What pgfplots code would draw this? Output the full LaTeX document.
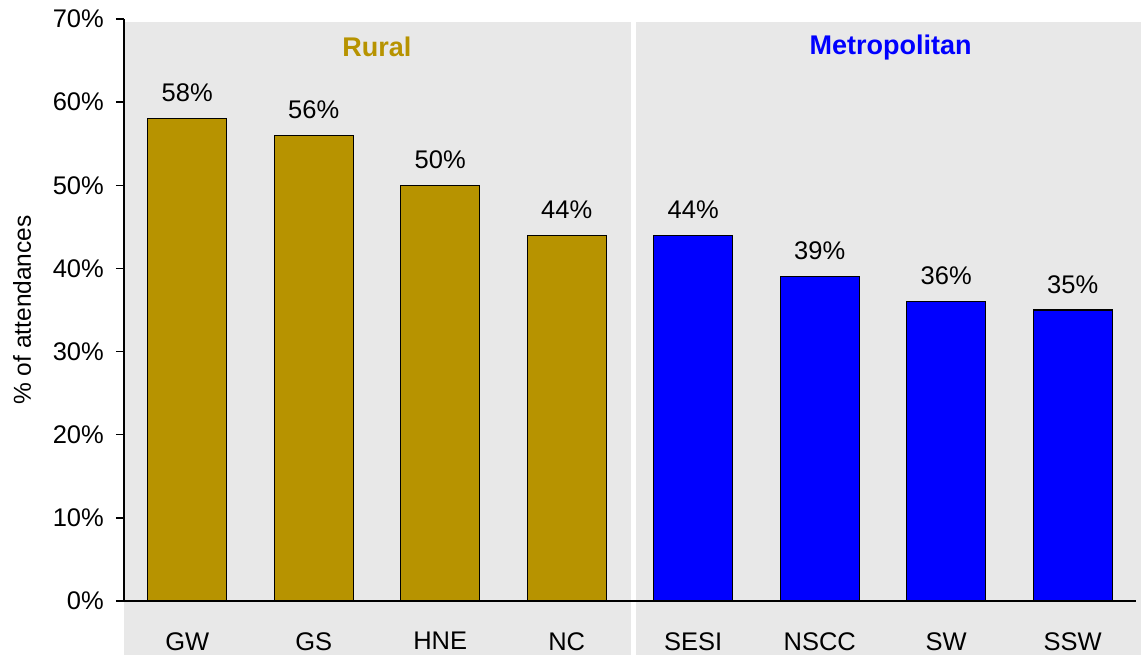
\documentclass[border=0pt]{standalone}
\usepackage{pgfplots}
\pgfplotsset{compat=1.18}
\usepackage{fontspec}
\setmainfont{Liberation Sans}
\definecolor{gold}{RGB}{183,147,0}
\definecolor{bg}{RGB}{232,232,232}
\begin{document}
\fontsize{25.5}{30}\selectfont
\begin{tikzpicture}[font=\fontsize{25.5}{30}\selectfont]
\useasboundingbox (0,0) rectangle (1141pt,655pt);
\fill[bg] (124pt,0pt) rectangle (1141pt,633pt);
\fill[white] (630.5pt,0pt) rectangle (635.5pt,633pt);
\begin{axis}[
  at={(124pt,54pt)}, anchor=south west,
  scale only axis, width=1012pt, height=582pt,
  xmin=-0.5, xmax=7.5, ymin=0, ymax=70,
  axis x line=bottom, axis y line=left,
  axis line style={-, line width=1.3pt, black},
  /pgf/number format/assume math mode=true,
  tick align=outside, major tick length=8pt,
  ytick={0,10,...,70},
  yticklabel={\pgfmathprintnumber{\tick}\%},
  ytick style={line width=1.3pt, black},
  yticklabel style={inner sep=0pt, xshift=-12pt},
  xtick={0,1,2,3,4,5,6,7},
  xticklabels={GW,GS,HNE,NC,SESI,NSCC,SW,SSW},
  xtick style={draw=none},
  xticklabel style={anchor=north, inner sep=0pt, yshift=-23pt},
  ylabel={\fontsize{24.5}{29}\selectfont\% of attendances},
  every axis y label/.style={at={(axis description cs:-0.1008,0.5)}, rotate=90, anchor=center},
  clip=false,
  nodes near coords={\pgfmathprintnumber{\pgfplotspointmeta}\%},
  every node near coord/.append style={anchor=south, inner sep=0pt, yshift=16pt, text=black},
]
\addplot[ybar, bar width=0.625, bar shift=0, fill=gold, draw=black, line width=1.3pt]
  coordinates {(0,58) (1,56) (2,50) (3,44)};
\addplot[ybar, bar width=0.625, bar shift=0, fill=blue, draw=black, line width=1.3pt]
  coordinates {(4,44) (5,39) (6,36) (7,35)};
\node[font=\fontsize{27}{32}\selectfont\bfseries, text=gold] at (axis cs:1.5,66.6) {Rural};
\node[font=\fontsize{27}{32}\selectfont\bfseries, text=blue] at (axis cs:5.56,66.6) {Metropolitan};
\end{axis}
\end{tikzpicture}
\end{document}
